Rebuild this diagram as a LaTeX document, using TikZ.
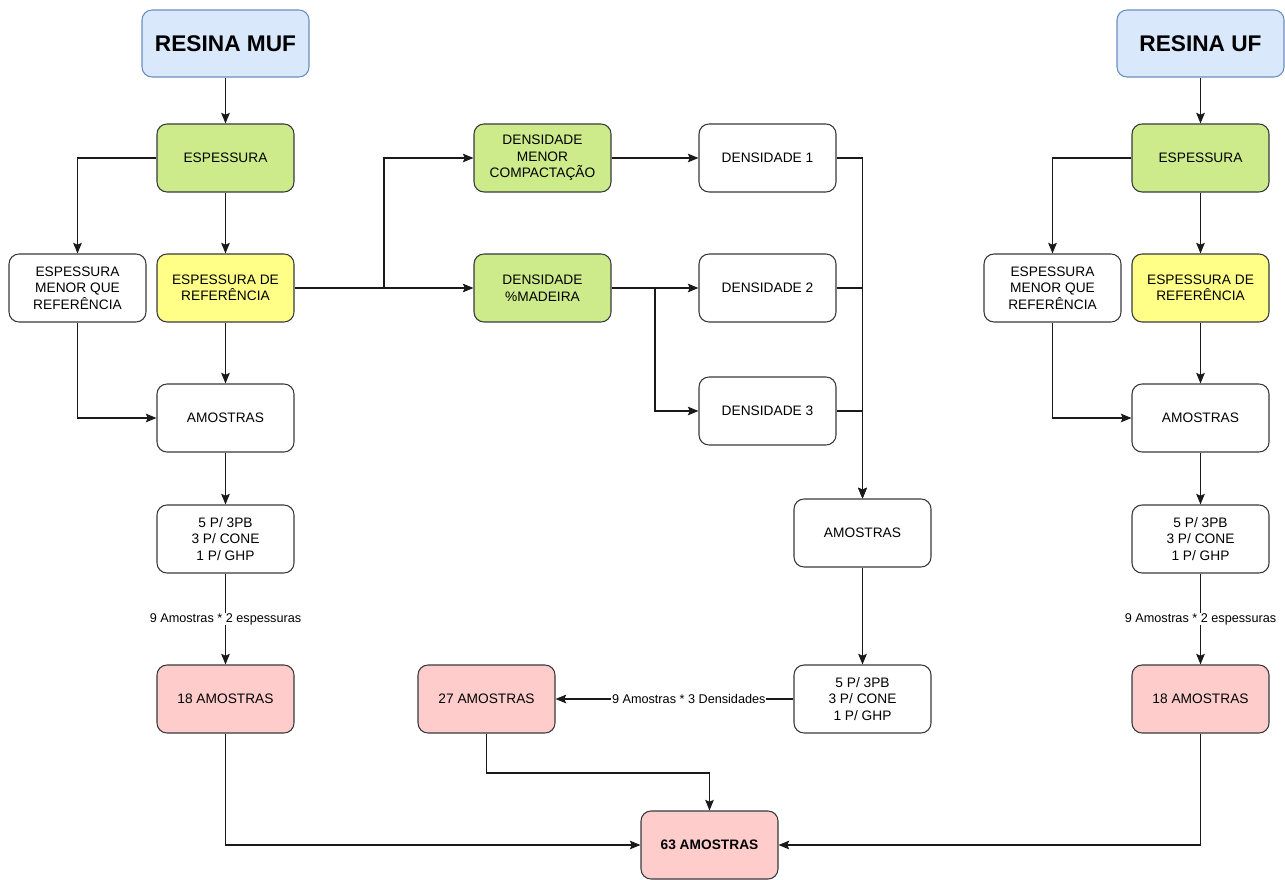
\documentclass[tikz,border=0pt]{standalone}
\usepackage{fontspec}
\setmainfont{Liberation Sans}
\usetikzlibrary{arrows.meta,positioning}
\definecolor{bfill}{HTML}{DAE8FC}
\definecolor{bdraw}{HTML}{6C8EBF}
\definecolor{gfill}{HTML}{CDEB8B}
\definecolor{yfill}{HTML}{FFFF88}
\definecolor{pfill}{HTML}{FFCCCC}
\definecolor{ndraw}{HTML}{36393D}
\definecolor{edge}{HTML}{1A1A1A}
\tikzset{
  box/.style={draw=ndraw, line width=0.8pt, rounded corners=7.5pt, minimum width=102.75pt, minimum height=51pt, align=center, font=\fontsize{10.3}{12.4}\selectfont, inner sep=1pt},
  title/.style={box, draw=bdraw, fill=bfill, minimum width=125.25pt, minimum height=50.25pt, font=\fontsize{17}{20}\selectfont\bfseries},
  wbox/.style={box, fill=white},
  gbox/.style={box, fill=gfill},
  ybox/.style={box, fill=yfill},
  pbox/.style={box, fill=pfill},
  arr/.style={draw=edge, line width=0.8pt, -{Stealth[length=8pt,width=6.5pt,inset=1.5pt]}},
  ln/.style={draw=edge, line width=0.8pt},
  elabel/.style={fill=white, inner sep=0.5pt, font=\fontsize{9.5}{11}\selectfont}
}
\begin{document}
\begin{tikzpicture}[x=0.75pt, y=-0.75pt]
\useasboundingbox (0,0) rectangle (1285,880);
% left column
\node[title] (muf) at (225.5,43.5) {RESINA MUF};
\node[gbox] (esp1) at (225.5,158) {ESPESSURA};
\node[wbox] (men1) at (77.5,288) {ESPESSURA\\MENOR QUE\\REFERÊNCIA};
\node[ybox] (ref1) at (225.5,288) {ESPESSURA DE\\REFERÊNCIA};
\node[wbox] (am1) at (225.5,418) {AMOSTRAS};
\node[wbox] (p1) at (225.5,539) {5 P/ 3PB\\3 P/ CONE\\1 P/ GHP};
\node[pbox] (n18a) at (225.5,699) {18 AMOSTRAS};
% middle
\node[gbox] (dmc) at (542.5,158) {DENSIDADE\\MENOR\\COMPACTAÇÃO};
\node[gbox] (dmad) at (542.5,288) {DENSIDADE\\\%MADEIRA};
\node[wbox] (d1) at (767.5,158) {DENSIDADE 1};
\node[wbox] (d2) at (767.5,288) {DENSIDADE 2};
\node[wbox] (d3) at (767.5,411) {DENSIDADE 3};
\node[wbox] (am2) at (862.5,533) {AMOSTRAS};
\node[wbox] (p2) at (862.5,699) {5 P/ 3PB\\3 P/ CONE\\1 P/ GHP};
\node[pbox] (n27) at (486.5,699) {27 AMOSTRAS};
\node[pbox, font=\fontsize{10.3}{12.4}\selectfont\bfseries] (n63) at (709.5,845) {63 AMOSTRAS};
% right column
\node[title] (uf) at (1200.5,43.5) {RESINA UF};
\node[gbox] (esp2) at (1200.5,158) {ESPESSURA};
\node[wbox] (men2) at (1052.5,288) {ESPESSURA\\MENOR QUE\\REFERÊNCIA};
\node[ybox] (ref2) at (1200.5,288) {ESPESSURA DE\\REFERÊNCIA};
\node[wbox] (am2r) at (1200.5,418) {AMOSTRAS};
\node[wbox] (p3) at (1200.5,539) {5 P/ 3PB\\3 P/ CONE\\1 P/ GHP};
\node[pbox] (n18b) at (1200.5,699) {18 AMOSTRAS};
% junction coordinates
\coordinate (j1) at (384,288);
\coordinate (j2) at (655,288);
\coordinate (j3) at (486.5,773);
% left edges
\draw[arr] (muf) -- (esp1);
\draw[arr] (esp1) -- (ref1);
\draw[arr] (esp1.west) -| (men1.north);
\draw[arr] (men1.south) |- (am1.west);
\draw[arr] (ref1) -- (am1);
\draw[arr] (am1) -- (p1);
\draw[arr] (p1) -- node[elabel]{9 Amostras * 2 espessuras} (n18a);
\draw[arr] (n18a.south) |- (n63.west);
% middle edges
\draw[ln] (ref1.east) -- (j1);
\draw[arr] (j1) |- (dmc.west);
\draw[arr] (j1) -- (dmad.west);
\draw[arr] (dmc) -- (d1);
\draw[arr] (dmad) -- (d2);
\draw[arr] (j2) |- (d3.west);
\draw[arr] (d1.east) -| (am2.north);
\draw[arr] (d2.east) -| (am2.north);
\draw[arr] (d3.east) -| (am2.north);
\draw[arr] (am2) -- (p2);
\draw[arr] (p2.west) -- node[elabel, pos=0.44]{9 Amostras * 3 Densidades} (n27.east);
\draw[arr] (n27.south) -- (j3) -| (n63.north);
% right edges
\draw[arr] (uf) -- (esp2);
\draw[arr] (esp2) -- (ref2);
\draw[arr] (esp2.west) -| (men2.north);
\draw[arr] (men2.south) |- (am2r.west);
\draw[arr] (ref2) -- (am2r);
\draw[arr] (am2r) -- (p3);
\draw[arr] (p3) -- node[elabel]{9 Amostras * 2 espessuras} (n18b);
\draw[arr] (n18b.south) |- (n63.east);
\end{tikzpicture}
\end{document}
